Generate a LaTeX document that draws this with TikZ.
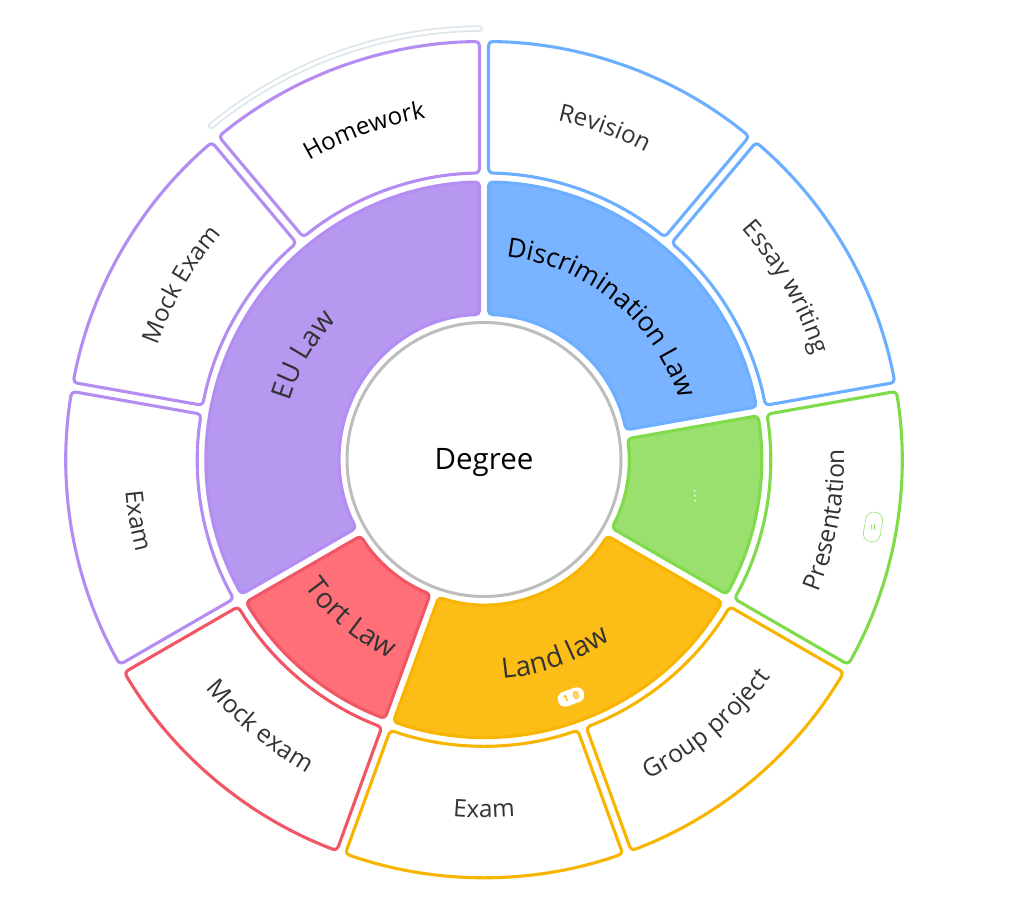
\documentclass[tikz,border=0pt]{standalone}
\usepackage{fontspec}
\usetikzlibrary{decorations.text}
\setmainfont{Open Sans}
\definecolor{pS}{HTML}{B48DF2}\definecolor{pF}{HTML}{B698F0}
\definecolor{bS}{HTML}{6CAEFF}\definecolor{bF}{HTML}{7AB3FF}
\definecolor{gS}{HTML}{7FDB4A}\definecolor{gF}{HTML}{9AE06E}
\definecolor{yS}{HTML}{F8B500}\definecolor{yF}{HTML}{FDBD17}
\definecolor{rS}{HTML}{F25563}\definecolor{rF}{HTML}{FF6F78}
\definecolor{ghost}{HTML}{DDE6EB}\definecolor{ringgray}{HTML}{BDBDBD}
\definecolor{ink}{HTML}{333333}
\tikzset{
  sectorline/.style={line width=3.1pt,rounded corners=4pt,line join=round},
  labk/.style={font=\fontsize{#1}{#1}\selectfont,text=black,inner sep=0pt}
}
\newcommand{\ringsector}[5]{%
  \pgfmathsetmacro{\dO}{asin(4.5/#4)}%
  \pgfmathsetmacro{\dI}{asin(4.5/#3)}%
  \draw[sectorline,#5] ({#1-\dO}:#4) arc[start angle={#1-\dO},end angle={#2+\dO},radius=#4 pt]
    -- ({#2+\dI}:#3) arc[start angle={#2+\dI},end angle={#1-\dI},radius=#3 pt] -- cycle;}
% text, centre angle, baseline radius, size, colour, direction (1 = counter-clockwise, -1 = clockwise)
\newcommand{\arclabel}[6]{%
  \path[decorate,decoration={text along path,text align=center,
     text={|\fontsize{#4}{#4}\selectfont\color{#5}|#1}}]
    ({#2-#6*60}:#3) arc[start angle={#2-#6*60},end angle={#2+#6*60},radius=#3 pt];}
\begin{document}
\begin{tikzpicture}[x=1pt,y=1pt]
\useasboundingbox (0,0) rectangle (1020,912);
\begin{scope}[shift={(484,452.5)}]
% ghost arc
\draw[ghost,line width=6.5pt,line cap=round] (90.6:431) arc[start angle=90.6,end angle=129.3,radius=431pt];
\draw[white,line width=3pt,line cap=round] (90.6:431) arc[start angle=90.6,end angle=129.3,radius=431pt];
% outer ring
\ringsector{130}{90}{286.5}{418}{draw=pS,fill=white}
\ringsector{170}{130}{286.5}{418}{draw=pS,fill=white}
\ringsector{210}{170}{286.5}{418}{draw=pS,fill=white}
\ringsector{250}{210}{286.5}{418}{draw=rS,fill=white}
\ringsector{290}{250}{286.5}{418}{draw=yS,fill=white}
\ringsector{330}{290}{286.5}{418}{draw=yS,fill=white}
\ringsector{10}{-30}{286.5}{418}{draw=gS,fill=white}
\ringsector{50}{10}{286.5}{418}{draw=bS,fill=white}
\ringsector{90}{50}{286.5}{418}{draw=bS,fill=white}
% inner ring
\ringsector{90}{10}{145}{277.5}{draw=bS,fill=bF}
\ringsector{10}{-30}{145}{277.5}{draw=gS,fill=gF}
\ringsector{-30}{-110}{145}{277.5}{draw=yS,fill=yF}
\ringsector{-110}{-150}{145}{277.5}{draw=rS,fill=rF}
\ringsector{-150}{-270}{145}{277.5}{draw=pS,fill=pF}
% outer labels
\arclabel{Homework}{110}{346}{24.2}{black}{-1}
\arclabel{Revision}{70}{347}{24.2}{ink}{-1}
\arclabel{Essay writing}{29.7}{346}{24.2}{ink}{-1}
\arclabel{Presentation}{-10}{360}{24.6}{ink}{1}
\arclabel{Group project}{-50}{360}{24.8}{ink}{1}
\arclabel{Exam}{-90}{358}{24.2}{ink}{1}
\arclabel{Mock exam}{230}{360}{24.8}{ink}{1}
\arclabel{Exam}{190}{360}{24.2}{ink}{1}
\arclabel{Mock Exam}{150}{346}{24.2}{ink}{-1}
% inner labels
\arclabel{EU Law}{150}{203}{28}{ink}{-1}
\arclabel{Discrimination Law}{50.5}{204}{26.7}{black}{-1}
\arclabel{Tort Law}{230}{220}{28}{ink}{1}
\arclabel{Land law}{-70}{220}{28}{ink}{1}
\end{scope}
% centre
\node[circle,draw=ringgray,line width=3pt,fill=white,minimum size=274pt,inner sep=0pt] (centre) at (484,452.5) {};
\node[labk=29.5] (degree) at (484,449) {Degree};
\node[text=white,inner sep=0pt,font=\fontsize{14}{14}\selectfont,rotate=-85] (dots) at (695,416) {.\kern1.2pt.\kern1.2pt.};
% badges
\node[fill=white,rounded corners=7pt,minimum width=27pt,minimum height=15pt,inner sep=0pt,rotate=20] (pill) at (571,215) {};
\node[text=yS,inner sep=0pt,font=\bfseries\fontsize{9}{9}\selectfont,rotate=20] (one) at (566,213.5) {1};
\fill[yS!60!white,rotate around={20:(576,217)}] (576,217) ellipse (3.6pt and 4.6pt);
\node[draw=gS!70!white,line width=.7pt,rounded corners=8pt,minimum width=30pt,minimum height=17pt,inner sep=0pt,rotate=80] (pillg) at (873,385) {};
\draw[gS,line width=.8pt] (872,382) -- (871.5,387);
\draw[gS,line width=.8pt] (875,382) -- (874,388);
\end{tikzpicture}
\end{document}
